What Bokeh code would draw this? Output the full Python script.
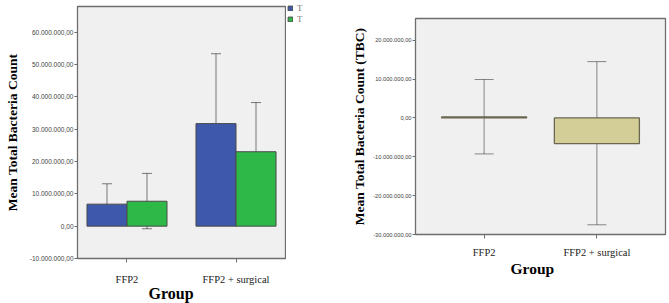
from bokeh.plotting import figure
from bokeh.models import (ColumnDataSource, FactorRange, Range1d, FixedTicker, Whisker,
                          TeeHead, Legend, LegendItem, Title)
from bokeh.transform import dodge
from bokeh.layouts import row
from bokeh.embed import file_html
from bokeh.resources import INLINE

# ---------------- data ----------------
groups = ["FFP2", "FFP2 + surgical"]

# left chart: mean TBC per group, two series (both labelled "T" in the legend)
t1_mean = [6.8e6, 31.7e6]
t1_low = [0.8e6, 10.1e6]
t1_high = [13.1e6, 53.3e6]
t2_mean = [7.7e6, 23.0e6]
t2_low = [-0.8e6, 7.9e6]
t2_high = [16.3e6, 38.2e6]
legend_labels = ["T", "T"]

left_ticks = [-10e6, 0, 10e6, 20e6, 30e6, 40e6, 50e6, 60e6]
left_tick_labels = ["-10.000.000,00", "0,00", "10.000.000,00", "20.000.000,00",
                    "30.000.000,00", "40.000.000,00", "50.000.000,00", "60.000.000,00"]

# right chart: mean TBC (difference) per group
diff_mean = [0.25e6, -6.6e6]
diff_low = [-9.26e6, -27.5e6]
diff_high = [9.9e6, 14.5e6]

right_ticks = [-30e6, -20e6, -10e6, 0, 10e6, 20e6]
right_tick_labels = ["-30.000.000,00", "-20.000.000,00", "-10.000.000,00", "0,00",
                     "10.000.000,00", "20.000.000,00"]

# ---------------- styles ----------------
BG = "#f0f0f0"
FRAME = "#6e6e6e"
BLUE = "#3e58ac"
GREEN = "#2eb848"
BEIGE = "#d3ce98"
SERIF = "Liberation Serif"
SANS = "Liberation Sans"


def style(p, ticks, labels, tick_font_size):
    p.background_fill_color = BG
    p.border_fill_color = "white"
    p.outline_line_color = FRAME
    p.outline_line_width = 1.3
    p.xgrid.visible = False
    p.ygrid.visible = False
    ax = p.yaxis[0]
    ax.ticker = FixedTicker(ticks=ticks)
    ax.major_label_overrides = {t: l for t, l in zip(ticks, labels)}
    ax.major_label_text_font = SANS
    ax.major_label_text_font_size = tick_font_size
    ax.major_label_text_color = "#444444"
    ax.major_tick_in = 0
    ax.major_tick_out = 3
    ax.minor_tick_line_color = None
    ax.axis_line_color = FRAME
    ax.major_tick_line_color = FRAME
    ax.major_label_standoff = 1
    ax.axis_label_text_font = SERIF
    ax.axis_label_text_font_style = "bold"
    ax.axis_label_text_font_size = "13.5px"
    ax.axis_label_text_color = "black"
    bx = p.xaxis[0]
    bx.major_label_text_font = SERIF
    bx.major_label_text_font_size = "10.5px"
    bx.major_label_text_color = "#222222"
    bx.major_tick_in = 0
    bx.major_tick_out = 4
    bx.axis_line_color = FRAME
    bx.major_tick_line_color = FRAME


def group_title(p, offset, standoff, size):
    t = Title(text="Group", align="left", offset=offset, standoff=standoff,
              text_font=SERIF, text_font_style="bold", text_font_size=size,
              text_color="black")
    p.add_layout(t, "below")


# ---------------- left chart ----------------
src_l = ColumnDataSource(dict(g=groups, m1=t1_mean, lo1=t1_low, hi1=t1_high,
                              m2=t2_mean, lo2=t2_low, hi2=t2_high))
xr_l = FactorRange(factors=groups, range_padding=-0.046)
p1 = figure(width=286, height=303, x_range=xr_l, y_range=Range1d(-10e6, 67.9e6),
            output_backend="svg", toolbar_location=None, frame_align=False,
            min_border_left=77, min_border_right=1, min_border_top=6, min_border_bottom=45)
bw = 0.367
off = 0.1835
p1.vbar(x=dodge("g", -off, range=xr_l), top="m1", bottom=0, width=bw, source=src_l,
        fill_color=BLUE, line_color="#4a4a4a", line_width=1)
p1.vbar(x=dodge("g", off, range=xr_l), top="m2", bottom=0, width=bw, source=src_l,
        fill_color=GREEN, line_color="#4a4a4a", line_width=1)
for key, o in (("1", -off), ("2", off)):
    w = Whisker(base=dodge("g", o, range=xr_l), lower="lo" + key, upper="hi" + key,
                source=src_l, dimension="height",
                line_color="black", line_alpha=0.5, line_width=1,
                upper_head=TeeHead(size=10, line_color="black", line_alpha=0.5, line_width=1),
                lower_head=TeeHead(size=10, line_color="black", line_alpha=0.5, line_width=1))
    p1.add_layout(w)
style(p1, left_ticks, left_tick_labels, "6.5px")
p1.yaxis[0].axis_label = "Mean Total Bacteria Count"
p1.yaxis[0].axis_label_standoff = 7
p1.xaxis[0].major_label_standoff = 11
group_title(p1, 71, -9, "16px")

# legend of the left chart, drawn in a narrow strip to the right of its frame
pl = figure(width=49, height=303, output_backend="svg", toolbar_location=None,
            frame_align=False, x_axis_location=None, y_axis_location=None,
            x_range=Range1d(0, 1), y_range=Range1d(0, 1),
            min_border_left=0, min_border_right=0, min_border_top=0, min_border_bottom=0)
pl.outline_line_color = None
pl.xgrid.visible = False
pl.ygrid.visible = False
k1 = pl.vbar(x="m1", top="m1", width=1, source=src_l, fill_color=BLUE,
             line_color="#4a4a4a", line_width=1, visible=False)
k2 = pl.vbar(x="m2", top="m2", width=1, source=src_l, fill_color=GREEN,
             line_color="#4a4a4a", line_width=1, visible=False)
legend = Legend(items=[LegendItem(label=legend_labels[0], renderers=[k1]),
                       LegendItem(label=legend_labels[1], renderers=[k2])],
                location=(1, 279), margin=0, padding=0, spacing=1,
                glyph_width=6, glyph_height=6, label_height=6, label_standoff=4,
                label_text_font=SERIF, label_text_font_size="9px", label_text_color="#777777",
                border_line_color=None, background_fill_alpha=0)
pl.add_layout(legend)

# ---------------- right chart ----------------
src_r = ColumnDataSource(dict(g=groups, m=diff_mean, lo=diff_low, hi=diff_high))
xr_r = FactorRange(factors=groups, range_padding=0.1085)
p2 = figure(width=334, height=303, x_range=xr_r, y_range=Range1d(-30e6, 25.6e6),
            output_backend="svg", toolbar_location=None, frame_align=False,
            min_border_left=80, min_border_right=4, min_border_top=18, min_border_bottom=69)
p2.vbar(x="g", top="m", bottom=0, width=0.754, source=src_r,
        fill_color=BEIGE, line_color="#6a6650", line_width=1.3)
p2.add_layout(Whisker(base="g", lower="lo", upper="hi", source=src_r, dimension="height",
                      line_color="black", line_alpha=0.45, line_width=1,
                      upper_head=TeeHead(size=19, line_color="black", line_alpha=0.45, line_width=1),
                      lower_head=TeeHead(size=19, line_color="black", line_alpha=0.45, line_width=1)))
style(p2, right_ticks, right_tick_labels, "5.7px")
p2.yaxis[0].axis_label = "Mean Total Bacteria Count (TBC)"
p2.yaxis[0].axis_label_standoff = 3
p2.xaxis[0].major_label_standoff = 8
group_title(p2, 95, -5, "15.5px")

layout = row(p1, pl, p2)
open("out.html", "w").write(file_html(layout, INLINE))
